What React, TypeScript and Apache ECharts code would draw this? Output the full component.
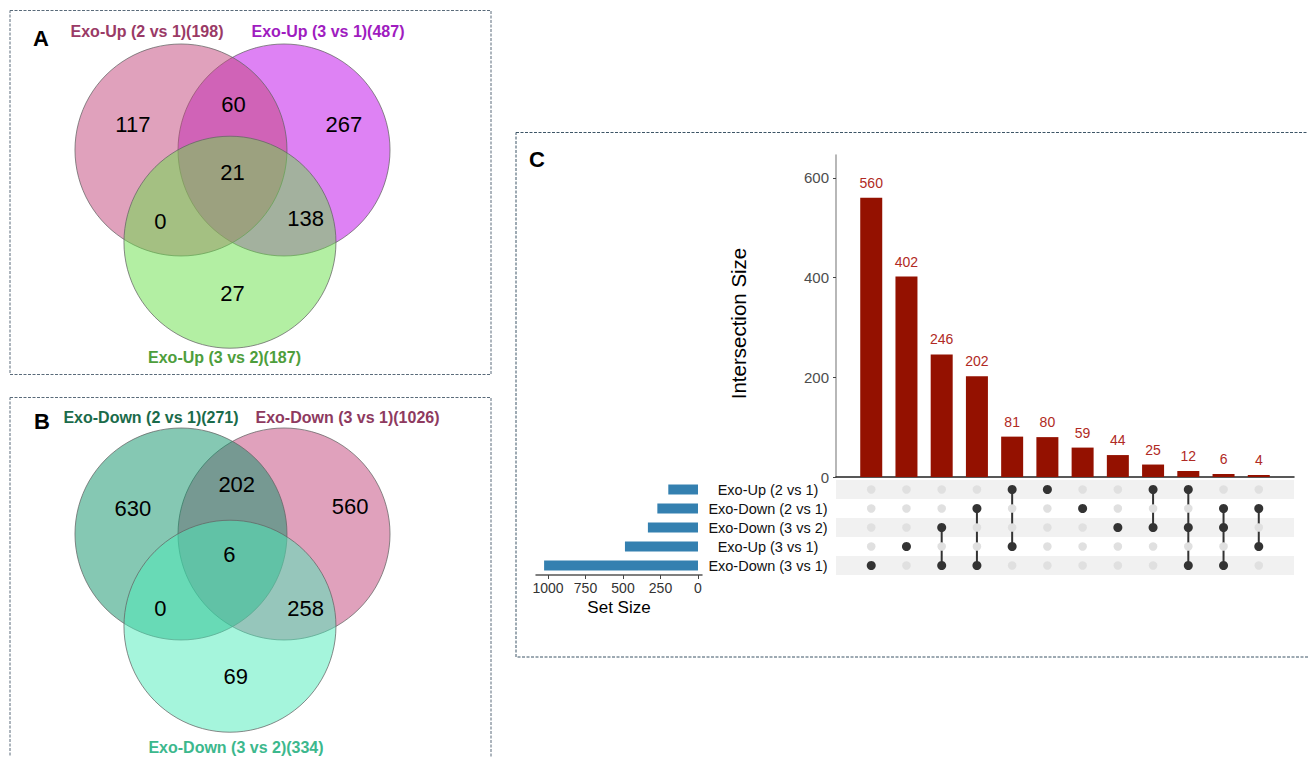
import React, { useEffect, useRef } from "react";
import * as echarts from "echarts";

// ---------- DATA ----------
const vennASets = ["Exo-Up (2 vs 1)(198)", "Exo-Up (3 vs 1)(487)", "Exo-Up (3 vs 2)(187)"];
// regions: only1, 1&2, only2, all, 1&3, 2&3, only3
const vennACounts = [117, 60, 267, 21, 0, 138, 27];

const vennBSets = ["Exo-Down (2 vs 1)(271)", "Exo-Down (3 vs 1)(1026)", "Exo-Down (3 vs 2)(334)"];
const vennBCounts = [630, 202, 560, 6, 0, 258, 69];

const upsetSets = ["Exo-Up (2 vs 1)", "Exo-Down (2 vs 1)", "Exo-Down (3 vs 2)", "Exo-Up (3 vs 1)", "Exo-Down (3 vs 1)"];
const setSizes = [198, 271, 334, 487, 1026];
const intersectionSizes = [560, 402, 246, 202, 81, 80, 59, 44, 25, 12, 6, 4];
const intersectionMembers = [[4], [3], [2, 4], [1, 4], [0, 3], [0], [1], [2], [0, 2], [0, 2, 4], [1, 2, 4], [1, 3]];
const intersectionTicks = [0, 200, 400, 600];
const setSizeTicks = [0, 250, 500, 750, 1000];

// ---------- LAYOUT (unit-circle coordinates) ----------
const vennCircleCenters = [[-0.486, 0], [0.486, 0], [-0.024, -0.87]];
const vennALabelPos = [[-0.94, 0.245], [0.01, 0.43], [1.05, 0.245], [0.0, -0.21], [-0.68, -0.67], [0.69, -0.645], [0.0, -1.35]];
const vennBLabelPos = [[-0.94, 0.236], [0.04, 0.47], [1.11, 0.26], [-0.03, -0.19], [-0.68, -0.70], [0.69, -0.70], [0.03, -1.34]];

const FONT = "Liberation Sans, Arial, Helvetica, sans-serif";

const vennAFill = ["rgba(193,67,121,0.5)", "rgba(189,5,233,0.5)", "rgba(103,223,71,0.5)"];
const vennBFill = ["rgba(11,145,103,0.5)", "rgba(193,67,121,0.5)", "rgba(75,235,185,0.5)"];
const vennATitleColor = ["#9A3A66", "#A01CC0", "#4E9E3C"];
const vennBTitleColor = ["#1A6B4A", "#8E3A5F", "#3CB88D"];

function vennGrid(box: { left: number; top: number; width: number; height: number }, ox: number, oy: number, r: number) {
  return {
    grid: { ...box },
    x: { min: (box.left - ox) / r, max: (box.left + box.width - ox) / r },
    y: { min: (oy - (box.top + box.height)) / r, max: (oy - box.top) / r },
  };
}

const R = 106;
const VA = vennGrid({ left: 10, top: 10, width: 480, height: 365 }, 232.5, 150, R);
const VB = vennGrid({ left: 10, top: 397, width: 480, height: 360 }, 232.5, 534, R);

function circleSeries(idx: number, fills: string[]) {
  // draw order: circle 2, circle 1, circle 3
  const order = [1, 0, 2];
  return {
    type: "custom",
    xAxisIndex: idx,
    yAxisIndex: idx,
    silent: true,
    data: order.map((k) => [vennCircleCenters[k][0], vennCircleCenters[k][1], k]),
    renderItem: (params: any, api: any) => {
      const c = api.coord([api.value(0), api.value(1)]);
      const s = api.size([1, 1]);
      const k = api.value(2);
      return {
        type: "circle",
        shape: { cx: c[0], cy: c[1], r: s[0] },
        style: { fill: fills[k], stroke: "rgba(100,100,100,0.75)", lineWidth: 1 },
      };
    },
  };
}

function countSeries(idx: number, counts: number[], pos: number[][]) {
  return {
    type: "custom",
    xAxisIndex: idx,
    yAxisIndex: idx,
    silent: true,
    z: 5,
    data: counts.map((v, i) => [pos[i][0], pos[i][1], v]),
    renderItem: (params: any, api: any) => {
      const c = api.coord([api.value(0), api.value(1)]);
      return {
        type: "text",
        x: c[0],
        y: c[1],
        style: {
          text: String(api.value(2)),
          fill: "#000",
          fontSize: 22,
          fontFamily: FONT,
          align: "center",
          verticalAlign: "middle",
        },
      };
    },
  };
}

const hiddenAxis = (range: { min: number; max: number }, gi: number) => ({
  type: "value",
  gridIndex: gi,
  min: range.min,
  max: range.max,
  show: false,
  splitLine: { show: false },
});

export default function App() {
  const ref = useRef<HTMLDivElement>(null);

  useEffect(() => {
    if (!ref.current) return;
    const chart = echarts.init(ref.current, undefined, { renderer: "svg" });

    const inactive: number[][] = [];
    const active: number[][] = [];
    const links: number[][] = [];
    intersectionMembers.forEach((m, i) => {
      for (let r = 0; r < upsetSets.length; r++) {
        if (m.includes(r)) active.push([i + 1, r]);
        else inactive.push([i + 1, r]);
      }
      if (m.length > 1) links.push([i + 1, Math.min(...m), Math.max(...m)]);
    });

    const titleText = (text: string, x: number, y: number, color: string) => ({
      type: "text",
      x,
      y,
      silent: true,
      style: { text, fill: color, fontSize: 16, fontWeight: "bold", fontFamily: FONT, align: "center", verticalAlign: "middle" },
    });
    const letter = (text: string, x: number, y: number) => ({
      type: "text",
      x,
      y,
      silent: true,
      style: { text, fill: "#000", fontSize: 22, fontWeight: "bold", fontFamily: FONT, align: "center", verticalAlign: "middle" },
    });

    const option: any = {
      animation: false,
      backgroundColor: "#fff",
      textStyle: { fontFamily: FONT },
      grid: [
        VA.grid,
        VB.grid,
        { left: 836, top: 155, width: 458, height: 322 },
        { left: 836, top: 480, width: 458, height: 95 },
        { left: 536, top: 480, width: 166, height: 95 },
      ],
      xAxis: [
        hiddenAxis(VA.x, 0),
        hiddenAxis(VB.x, 1),
        {
          type: "value",
          gridIndex: 2,
          min: 0,
          max: intersectionSizes.length + 1,
          axisLine: { show: true, onZero: false, lineStyle: { color: "#222", width: 1.5 } },
          axisTick: { show: false },
          axisLabel: { show: false },
          splitLine: { show: false },
        },
        {
          type: "value",
          gridIndex: 3,
          min: 0,
          max: intersectionSizes.length + 1,
          show: false,
          splitLine: { show: false },
        },
        {
          type: "value",
          gridIndex: 4,
          inverse: true,
          min: -26.7,
          max: 1080,
          axisLine: { show: true, onZero: false, lineStyle: { color: "#555", width: 1.5 } },
          axisTick: { show: true, length: 4, customValues: setSizeTicks, lineStyle: { color: "#444" } },
          axisLabel: {
            show: true,
            customValues: setSizeTicks,
            formatter: (v: number) => String(v),
            fontSize: 14,
            color: "#333",
            margin: 6,
            fontFamily: FONT,
          },
          splitLine: { show: false },
          name: "Set Size",
          nameLocation: "middle",
          nameGap: 24,
          nameTextStyle: { fontSize: 17, color: "#000", fontFamily: FONT },
        },
      ],
      yAxis: [
        hiddenAxis(VA.y, 0),
        hiddenAxis(VB.y, 1),
        {
          type: "value",
          gridIndex: 2,
          min: 0,
          max: 646,
          axisLine: { show: true, lineStyle: { color: "#A6A6A6", width: 1.6 } },
          axisTick: { show: true, length: 3, customValues: intersectionTicks, lineStyle: { color: "#444" } },
          axisLabel: { show: true, customValues: intersectionTicks, fontSize: 15, color: "#4D4D4D", margin: 7, fontFamily: FONT },
          splitLine: { show: false },
        },
        {
          type: "category",
          gridIndex: 3,
          inverse: true,
          data: upsetSets,
          axisLine: { show: false },
          axisTick: { show: false, interval: 0 },
          axisLabel: { show: true, interval: 0, align: "center", margin: 68, fontSize: 14.5, color: "#111", fontFamily: FONT },
          splitLine: { show: false },
          splitArea: { show: true, interval: 0, areaStyle: { color: ["#F1F1F1", "#FFFFFF"] } },
        },
        {
          type: "category",
          gridIndex: 4,
          inverse: true,
          data: upsetSets,
          show: false,
        },
      ],
      series: [
        circleSeries(0, vennAFill),
        countSeries(0, vennACounts, vennALabelPos),
        circleSeries(1, vennBFill),
        countSeries(1, vennBCounts, vennBLabelPos),
        {
          type: "bar",
          xAxisIndex: 2,
          yAxisIndex: 2,
          barWidth: 22,
          itemStyle: { color: "#941100" },
          data: intersectionSizes.map((v, i) => [i + 1, v]),
          label: { show: true, position: "top", distance: 8, color: "#B02A24", fontSize: 14, fontFamily: FONT },
          silent: true,
        },
        {
          type: "scatter",
          xAxisIndex: 3,
          yAxisIndex: 3,
          symbolSize: 8.5,
          itemStyle: { color: "#E0E0E0", opacity: 1 },
          data: inactive,
          silent: true,
        },
        {
          type: "custom",
          xAxisIndex: 3,
          yAxisIndex: 3,
          silent: true,
          data: links,
          renderItem: (params: any, api: any) => {
            const p1 = api.coord([api.value(0), api.value(1)]);
            const p2 = api.coord([api.value(0), api.value(2)]);
            return {
              type: "line",
              shape: { x1: p1[0], y1: p1[1], x2: p2[0], y2: p2[1] },
              style: { stroke: "#333", lineWidth: 2 },
            };
          },
        },
        {
          type: "scatter",
          xAxisIndex: 3,
          yAxisIndex: 3,
          symbolSize: 9,
          itemStyle: { color: "#333333", opacity: 1 },
          data: active,
          silent: true,
          z: 4,
        },
        {
          type: "bar",
          xAxisIndex: 4,
          yAxisIndex: 4,
          barWidth: 10,
          itemStyle: { color: "#3480B0" },
          data: setSizes,
          silent: true,
        },
      ],
      graphic: [
        { type: "rect", silent: true, shape: { x: 10, y: 10.5, width: 481, height: 364 }, style: { fill: "none", stroke: "#5A6B7A", lineWidth: 1, lineDash: [3, 1.5] } },
        { type: "rect", silent: true, shape: { x: 10, y: 397.5, width: 481, height: 400 }, style: { fill: "none", stroke: "#5A6B7A", lineWidth: 1, lineDash: [3, 1.5] } },
        { type: "rect", silent: true, shape: { x: 516, y: 132.5, width: 820, height: 524.5 }, style: { fill: "none", stroke: "#3D5566", lineWidth: 1, lineDash: [3, 1.5] } },
        letter("A", 41, 38),
        letter("B", 42, 421),
        letter("C", 537, 159),
        titleText(vennASets[0], 147, 31, vennATitleColor[0]),
        titleText(vennASets[1], 328, 31, vennATitleColor[1]),
        titleText(vennASets[2], 224.5, 357, vennATitleColor[2]),
        titleText(vennBSets[0], 151, 417, vennBTitleColor[0]),
        titleText(vennBSets[1], 347.5, 417, vennBTitleColor[1]),
        titleText(vennBSets[2], 236, 747, vennBTitleColor[2]),
        {
          type: "text",
          silent: true,
          x: 738.5,
          y: 323.5,
          rotation: Math.PI / 2,
          style: { text: "Intersection Size", fill: "#000", fontSize: 20.5, fontFamily: FONT, align: "center", verticalAlign: "middle" },
        },
      ],
    };

    chart.setOption(option);
    return () => chart.dispose();
  }, []);

  return <div ref={ref} style={{ position: "absolute", left: 0, top: 0, width: 1308, height: 757 }} />;
}
